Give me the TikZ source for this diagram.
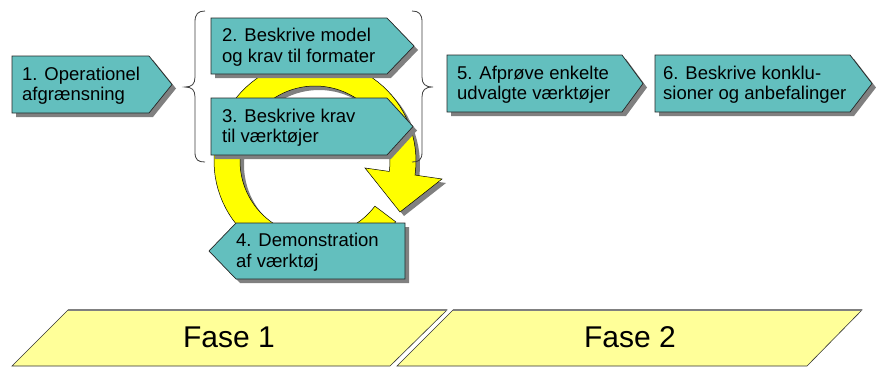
\documentclass[tikz,border=0pt]{standalone}
\usepackage{fontspec}
\setmainfont{Liberation Sans}
\definecolor{tealbox}{RGB}{99,191,190}
\definecolor{shadowgray}{RGB}{128,128,128}
\definecolor{phaseyellow}{RGB}{255,255,153}
\definecolor{ringyellow}{RGB}{255,255,0}

% right-pointing step tag: name, left, top, body right, tip x, bottom, text x, text
\newcommand{\tagright}[8]{%
  \fill[shadowfill] (#2+4,#3+4) -- (#4+4,#3+4) -- (#5+4,{(#3+#6)/2+4}) -- (#4+4,#6+4) -- (#2+4,#6+4) -- cycle;
  \path[tagfill] (#2,#3) -- (#4,#3) -- (#5,{(#3+#6)/2}) -- (#4,#6) -- (#2,#6) -- cycle;
  \node[tagtext] (#1) at (#7,{(#3+#6)/2+1}) {#8};
}

\begin{document}
\begin{tikzpicture}[x=1pt,y=-1pt,
  tagfill/.style={fill=tealbox, draw=black!85, line width=0.7pt},
  shadowfill/.style={fill=shadowgray},
  tagtext/.style={font=\fontsize{18.5}{20.5}\selectfont, align=left, inner sep=0pt, anchor=west},
  phasefill/.style={fill=phaseyellow, draw=black!80, line width=0.6pt},
  phasetop/.style={draw=black!50, line width=1.6pt},
  phasetext/.style={font=\fontsize{30}{32}\selectfont, inner sep=0pt},
  bracestyle/.style={draw=black!75, line width=0.8pt},
  ringfill/.style={fill=ringyellow, draw=black, line width=0.5pt}]

\fill[white] (0,0) rectangle (876,367);
\useasboundingbox (0,0) rectangle (876,367);

% phase bands
\path[phasefill] (12,366) -- (68,310) -- (447,310) -- (390,366) -- cycle;
\draw[phasetop] (68,310) -- (447,310);
\node[phasetext] (f1) at (229,337) {Fase 1};
\path[phasefill] (397,366) -- (453,310) -- (862,310) -- (807,366) -- cycle;
\draw[phasetop] (453,310) -- (862,310);
\node[phasetext] (f2) at (630,337) {Fase 2};

% circular iteration arrow
\begin{scope}[shift={(4,4)}]
  \fill[shadowfill] plot[domain=37:368,samples=90] ({315+75*cos(\x)},{161+75*sin(\x)})
    -- (365,168) -- (400,212) -- (442,179)
    -- plot[domain=368:37,samples=90] ({315+101*cos(\x)},{161+101*sin(\x)}) -- cycle;
\end{scope}
\filldraw[ringfill] plot[domain=37:368,samples=90] ({315+75*cos(\x)},{161+75*sin(\x)})
    -- (365,168) -- (400,212) -- (442,179)
    -- plot[domain=368:37,samples=90] ({315+101*cos(\x)},{161+101*sin(\x)}) -- cycle;

% step tags
\tagright{n1}{12}{56}{149}{172}{113}{22}{1. Operationel\\afgrænsning}
\tagright{n2}{211}{18}{387}{414}{74}{222}{2. Beskrive model\\og krav til formater}
\tagright{n3}{211}{98}{387}{413}{155}{222}{3. Beskrive krav\\til værktøjer}
\tagright{n5}{447}{55}{622}{643}{112}{457}{5. Afprøve enkelte\\udvalgte værktøjer}
\tagright{n6}{655}{55}{850}{872}{112}{663}{6. Beskrive konklu-\\sioner og anbefalinger}

% left-pointing tag
\fill[shadowfill] (213,255) -- (240,227) -- (409,227) -- (409,283) -- (240,283) -- cycle;
\path[tagfill] (209,251) -- (236,223) -- (405,223) -- (405,279) -- (236,279) -- cycle;
\node[tagtext] (n4) at (236,252) {4. Demonstration\\af værktøj};

% braces around steps 2 and 3
\draw[bracestyle] (205,11) .. controls (198,11) and (195,14) .. (195,22) -- (195,77)
  .. controls (195,84) and (192,87) .. (185,87) .. controls (192,87) and (195,90) .. (195,97)
  -- (195,152) .. controls (195,160) and (198,162) .. (205,162);
\draw[bracestyle] (412,11) .. controls (419,11) and (422,14) .. (422,22) -- (422,77)
  .. controls (422,84) and (425,87) .. (433,87) .. controls (425,87) and (422,90) .. (422,97)
  -- (422,152) .. controls (422,160) and (419,162) .. (412,162);
\end{tikzpicture}
\end{document}
